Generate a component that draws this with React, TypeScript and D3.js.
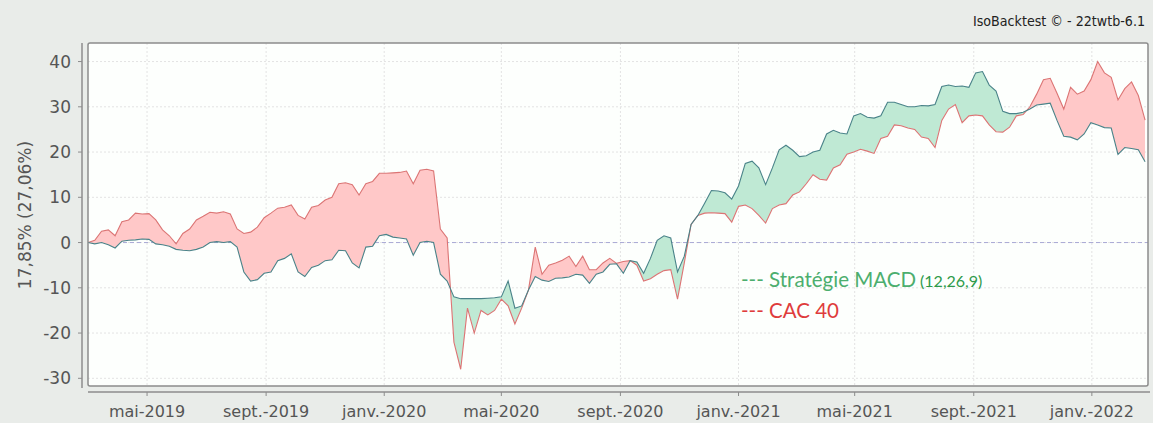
import React from 'react';
import * as d3 from 'd3';

// Weekly observations starting 2019-03-01 (% performance)
const START_DATE = '2019-03-01';
const END_DATE = '2022-02-28';

const strategyValues = [
  0, -0.3, 0, -0.5, -1.2, 0.3, 0.5, 0.6, 0.8, 0.7,
  -0.3, -0.5, -0.8, -1.5, -1.7, -1.8, -1.5, -1, 0, 0.2,
  0, 0.2, -1, -6.5, -8.5, -8.2, -6.8, -6.5, -4, -3.5,
  -2.5, -6.5, -7.5, -5.5, -5, -4, -3.8, -1.7, -1.8, -4.5,
  -5.6, -1, -0.8, 1.5, 1.8, 1.2, 1, 0.8, -2.8, 0,
  0.3, 0, -7, -8.5, -12, -12.4, -12.4, -12.4, -12.4, -12.3,
  -12.2, -12, -8.5, -14.5, -14, -10.5, -7.5, -8.3, -8.6, -7.9,
  -7.8, -7.6, -7, -7.2, -9, -7, -6.5, -4.8, -4.7, -6.8,
  -4, -4.3, -6.8, -3.5, 0.5, 1.5, 1, -6.5, -3, 4,
  6, 8.7, 11.5, 11.4, 11, 9.6, 12.5, 17.5, 18, 16.5,
  12.8, 16.5, 20.5, 21.5, 20.4, 19, 19.2, 20, 20.4, 24,
  24.8, 24.2, 24, 28, 28.5, 27.7, 27.5, 28, 31, 31,
  30.5, 30, 30, 30.3, 30.2, 30.5, 34.5, 34.8, 34.5, 34.6,
  34.3, 37.5, 37.8, 34.8, 33.5, 29, 28.5, 28.5, 28.8, 29.5,
  30.4, 30.6, 30.8, 27, 23.5, 23.3, 22.7, 24, 26.5, 26,
  25.4, 25.3, 19.5, 21, 20.8, 20.5, 17.85,
];

const cac40Values = [
  0, 0.5, 2.5, 2.8, 1.5, 4.6, 5, 6.5, 6.3, 6.4,
  5, 2.8, 1.5, -0.3, 2, 3, 5, 5.8, 6.7, 6.5,
  6.8, 6.3, 3, 2, 2.3, 3.4, 5.5, 6.5, 7.6, 7.8,
  8.3, 6, 5.2, 7.8, 8.2, 9.4, 10, 13, 13.2, 12.8,
  10.5, 13, 13.5, 15.3, 15.3, 15.4, 15.5, 15.8, 13, 16,
  16.2, 15.8, 3, 1, -22, -28, -14.5, -20, -15, -16,
  -15, -12.5, -14, -18, -14.5, -10.5, -1, -7, -5, -4.5,
  -3.9, -3, -5.3, -3, -6, -6, -4.5, -3.5, -4.6, -4.2,
  -4, -5, -8.5, -8, -7, -6.2, -6, -12.5, -4.5, 4,
  6, 6.5, 6.6, 6.5, 6.4, 4.5, 8, 8.3, 7.5, 6,
  4.3, 7.5, 8.3, 8.6, 10.5, 11.2, 13, 15, 14, 13.8,
  16.5, 17.2, 19.5, 20, 20.6, 20.2, 19.7, 23, 23.5, 26,
  25.8, 25.3, 25, 23.3, 23, 21, 27, 29.5, 30.5, 26.5,
  28, 28.2, 28, 26, 24.5, 24.4, 25.5, 28, 28.3, 30,
  32.8, 36, 36.3, 33, 29.5, 34.3, 32.8, 33.5, 36, 40,
  37.5, 36.5, 31.5, 34, 35.5, 32.5, 27.06,
];

const xTickDates = ['2019-05-01', '2019-09-01', '2020-01-01', '2020-05-01', '2020-09-01', '2021-01-01', '2021-05-01', '2021-09-01', '2022-01-01'];
const xTickLabels = ['mai-2019', 'sept.-2019', 'janv.-2020', 'mai-2020', 'sept.-2020', 'janv.-2021', 'mai-2021', 'sept.-2021', 'janv.-2022'];
const yTicks = [-30, -20, -10, 0, 10, 20, 30, 40];
const yTitle = '17,85% (27,06%)';
const watermark = 'IsoBacktest \u00A9 - 22twtb-6.1';
const legendStrategy = '--- Stratégie MACD';
const legendParams = '(12,26,9)';
const legendCac = '--- CAC 40';

const W = 1153;
const H = 423;
const P = { left: 88, right: 1148, top: 43, bottom: 386 };

export default function App() {
  const parse = d3.utcParse('%Y-%m-%d');
  const start = parse(START_DATE) as Date;
  const end = parse(END_DATE) as Date;
  const data = strategyValues.map((s, i) => ({
    date: d3.utcDay.offset(start, 7 * i),
    s,
    c: cac40Values[i],
  }));

  const x = d3.scaleUtc().domain([start, end]).range([P.left, P.right]);
  const y = d3.scaleLinear().domain([-31.7, 44.1]).range([P.bottom, P.top]);

  const between = d3.area<any>().x(d => x(d.date)).y0(d => y(d.c)).y1(d => y(d.s))(data) || '';
  const aboveCac = d3.area<any>().x(d => x(d.date)).y0(P.top - 5).y1(d => y(d.c))(data) || '';
  const belowCac = d3.area<any>().x(d => x(d.date)).y0(P.bottom + 5).y1(d => y(d.c))(data) || '';
  const lineS = d3.line<any>().x(d => x(d.date)).y(d => y(d.s))(data) || '';
  const lineC = d3.line<any>().x(d => x(d.date)).y(d => y(d.c))(data) || '';

  const axisFont = '"DejaVu Sans", sans-serif';
  const axisColor = '#555';

  return (
    <svg width={W} height={H} style={{ position: 'absolute', left: 0, top: 0 }}>
      <defs>
        <clipPath id="above-cac"><path d={aboveCac} /></clipPath>
        <clipPath id="below-cac"><path d={belowCac} /></clipPath>
        <clipPath id="plot-clip"><rect x={P.left} y={P.top} width={P.right - P.left} height={P.bottom - P.top} /></clipPath>
      </defs>
      <rect x={0} y={0} width={W} height={H} fill="#e9ece9" />
      <rect x={P.left} y={P.top} width={P.right - P.left} height={P.bottom - P.top} fill="#fdfffd" />

      {/* grid */}
      {yTicks.map(t => (
        <line key={'gy' + t} x1={P.left} x2={P.right} y1={y(t)} y2={y(t)} stroke="#e3e3e3" strokeDasharray="2,2" />
      ))}
      {xTickDates.map(d => (
        <line key={'gx' + d} x1={x(parse(d) as Date)} x2={x(parse(d) as Date)} y1={P.top} y2={P.bottom} stroke="#e3e3e3" strokeDasharray="2,2" />
      ))}
      <line x1={P.left} x2={P.right} y1={y(0)} y2={y(0)} stroke="#a9a9d6" strokeDasharray="4,3" strokeWidth={1} />

      <g clipPath="url(#plot-clip)">
        <path d={between} fill="#bfe9d4" clipPath="url(#above-cac)" />
        <path d={between} fill="#ffc8c8" clipPath="url(#below-cac)" />
        <path d={lineC} fill="none" stroke="#dc7474" strokeWidth={1.1} />
        <path d={lineS} fill="none" stroke="#4a8389" strokeWidth={1.1} />
      </g>

      <rect x={P.left} y={P.top} width={P.right - P.left} height={P.bottom - P.top} fill="none" stroke="#8c8c8c" strokeWidth={1.5} rx={2} />

      {/* y axis */}
      <line x1={82} x2={82} y1={P.top} y2={P.bottom + 2} stroke="#8c8c8c" strokeWidth={1.5} />
      {yTicks.map(t => (
        <g key={'yt' + t}>
          <line x1={78} x2={82} y1={y(t)} y2={y(t)} stroke="#8c8c8c" />
          <text x={71} y={y(t)} dy="0.36em" textAnchor="end" fontFamily={axisFont} fontSize={17} fill={axisColor}>{t}</text>
        </g>
      ))}
      <text transform={`translate(31,215) rotate(-90)`} textAnchor="middle" fontFamily={axisFont} fontSize={17} fill={axisColor}>{yTitle}</text>

      {/* x axis */}
      <line x1={P.left} x2={1150} y1={392} y2={392} stroke="#8c8c8c" strokeWidth={1.5} />
      {xTickDates.map((d, i) => {
        const xx = x(parse(d) as Date);
        return (
          <g key={'xt' + d}>
            <line x1={xx} x2={xx} y1={392} y2={396} stroke="#8c8c8c" />
            <text x={xx} y={417} textAnchor="middle" fontFamily={axisFont} fontSize={16} fill={axisColor}>{xTickLabels[i]}</text>
          </g>
        );
      })}

      {/* watermark */}
      <text x={1145} y={26} textAnchor="end" fontFamily='"DejaVu Sans Condensed", "DejaVu Sans", sans-serif' fontSize={14} fill="#222" textLength={172} lengthAdjust="spacingAndGlyphs">{watermark}</text>

      {/* legend */}
      <text x={741} y={287} fontFamily="Lato, sans-serif" fontSize={20.5} fill="#4cae6e">
        {legendStrategy}
        <tspan fontSize={16} fill="#2e9a4a" dx={4}>{legendParams}</tspan>
      </text>
      <text x={741} y={318} fontFamily="Lato, sans-serif" fontSize={20.5} fill="#df3c3c">{legendCac}</text>
    </svg>
  );
}
